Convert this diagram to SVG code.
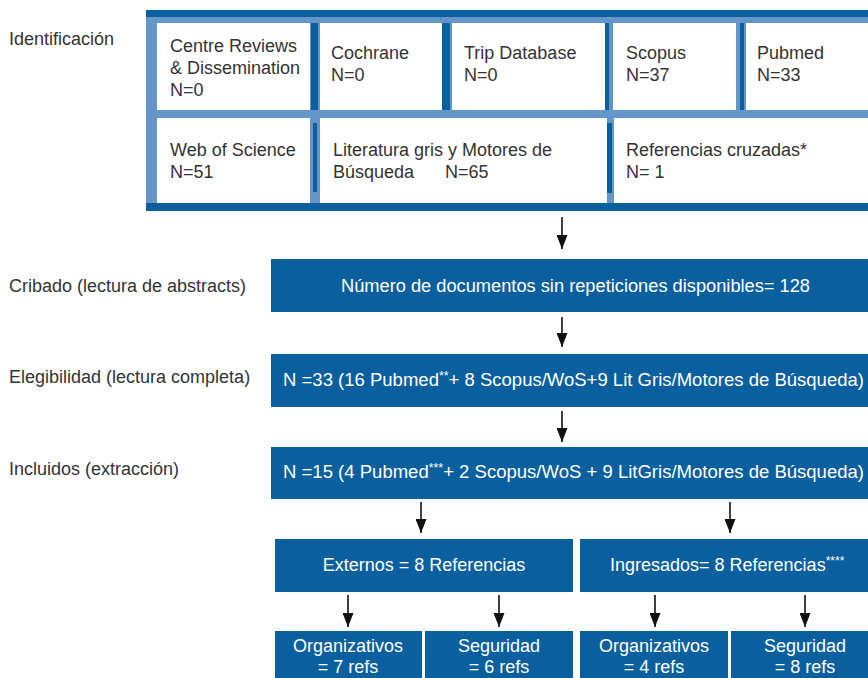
<svg xmlns="http://www.w3.org/2000/svg" width="868" height="678" viewBox="0 0 868 678">
<defs>
<style>
text{font-family:"Liberation Sans",Arial,Helvetica,sans-serif;font-size:18px}
.lbl{fill:#333333}
.dk{fill:#333333}
.wt{fill:#ffffff}
.dark{fill:#0A5F9E}
.light{fill:#6596C9}
.white{fill:#ffffff}
.conn line{stroke:#111111;stroke-width:1.6;fill:none}
.sup{font-size:12px}
</style>
<marker id="ah" markerUnits="userSpaceOnUse" markerWidth="15" markerHeight="11" refX="14" refY="5.5" orient="auto" viewBox="0 0 15 11">
<path d="M0,0 L14,5.5 L0,11 Z" fill="#111111"/>
</marker>
</defs>
<rect width="868" height="678" fill="#ffffff"/>

<g id="stage-labels">
<text class="lbl" x="9" y="45">Identificación</text>
<text class="lbl" x="9" y="292">Cribado (lectura de abstracts)</text>
<text class="lbl" x="9" y="383">Elegibilidad (lectura completa)</text>
<text class="lbl" x="9" y="475">Incluidos (extracción)</text>
</g>

<g id="source-frame">
<rect class="light" x="146" y="17" width="722" height="186"/>
<rect class="dark" x="146" y="10" width="722" height="7"/>
<rect class="dark" x="146" y="203" width="722" height="8"/>
<rect class="dark" x="311" y="23" width="7" height="87"/>
<rect class="dark" x="442" y="23" width="8" height="87"/>
<rect class="dark" x="605" y="23" width="4" height="87"/>
<rect class="dark" x="740" y="23" width="4" height="87"/>
<rect class="dark" x="313" y="123" width="4" height="69"/>
<rect class="dark" x="607" y="123" width="5" height="70"/>
</g>

<g id="crd">
<rect class="white" x="157" y="23" width="153" height="87"/>
<text class="dk" x="170" y="52">Centre Reviews</text>
<text class="dk" x="170" y="74">&amp; Dissemination</text>
<text class="dk" x="170" y="96">N=0</text>
</g>
<g id="cochrane">
<rect class="white" x="320" y="23" width="122" height="87"/>
<text class="dk" x="331" y="59">Cochrane</text>
<text class="dk" x="331" y="81">N=0</text>
</g>
<g id="trip">
<rect class="white" x="452" y="23" width="153" height="87"/>
<text class="dk" x="464" y="59">Trip Database</text>
<text class="dk" x="464" y="81">N=0</text>
</g>
<g id="scopus">
<rect class="white" x="613" y="23" width="123" height="87"/>
<text class="dk" x="626" y="59">Scopus</text>
<text class="dk" x="626" y="81">N=37</text>
</g>
<g id="pubmed">
<rect class="white" x="746" y="23" width="122" height="87"/>
<text class="dk" x="757" y="59">Pubmed</text>
<text class="dk" x="757" y="81">N=33</text>
</g>
<g id="wos">
<rect class="white" x="157" y="118" width="153" height="85"/>
<text class="dk" x="170" y="156">Web of Science</text>
<text class="dk" x="170" y="178">N=51</text>
</g>
<g id="literatura-gris">
<rect class="white" x="320" y="118" width="287" height="85"/>
<text class="dk" x="333" y="156">Literatura gris y Motores de</text>
<text class="dk" x="333" y="178">Búsqueda</text>
<text class="dk" x="445" y="178">N=65</text>
</g>
<g id="referencias-cruzadas">
<rect class="white" x="614" y="118" width="254" height="85"/>
<text class="dk" x="626" y="156">Referencias cruzadas*</text>
<text class="dk" x="626" y="178">N= 1</text>
</g>

<g id="cribado">
<rect class="dark" x="271" y="259" width="597" height="53"/>
<text class="wt" x="341" y="292" textLength="469" lengthAdjust="spacingAndGlyphs">Número de documentos sin repeticiones disponibles= 128</text>
</g>
<g id="elegibilidad">
<rect class="dark" x="271" y="354" width="597" height="53"/>
<text class="wt" x="283" y="386" textLength="581" lengthAdjust="spacingAndGlyphs">N =33 (16 Pubmed<tspan class="sup" dy="-6">**</tspan><tspan dy="6">+ 8 Scopus/WoS+9 Lit Gris/Motores de Búsqueda)</tspan></text>
</g>
<g id="incluidos">
<rect class="dark" x="271" y="447" width="597" height="52"/>
<text class="wt" x="283" y="478" textLength="581" lengthAdjust="spacingAndGlyphs">N =15 (4 Pubmed<tspan class="sup" dy="-6">***</tspan><tspan dy="6">+ 2 Scopus/WoS + 9 LitGris/Motores de Búsqueda)</tspan></text>
</g>
<g id="externos">
<rect class="dark" x="275" y="539" width="298" height="53"/>
<text class="wt" x="424" y="571" text-anchor="middle">Externos = 8 Referencias</text>
</g>
<g id="ingresados">
<rect class="dark" x="580" y="539" width="288" height="53"/>
<text class="wt" x="610" y="571">Ingresados= 8 Referencias<tspan class="sup" dy="-6">****</tspan></text>
</g>
<g id="ext-organizativos">
<rect class="dark" x="275" y="631" width="147" height="47"/>
<text class="wt" x="348" y="652" text-anchor="middle">Organizativos</text>
<text class="wt" x="348" y="673" text-anchor="middle">= 7 refs</text>
</g>
<g id="ext-seguridad">
<rect class="dark" x="425" y="631" width="148" height="47"/>
<text class="wt" x="499" y="652" text-anchor="middle">Seguridad</text>
<text class="wt" x="499" y="673" text-anchor="middle">= 6 refs</text>
</g>
<g id="ing-organizativos">
<rect class="dark" x="580" y="631" width="148" height="47"/>
<text class="wt" x="654" y="652" text-anchor="middle">Organizativos</text>
<text class="wt" x="654" y="673" text-anchor="middle">= 4 refs</text>
</g>
<g id="ing-seguridad">
<rect class="dark" x="731" y="631" width="137" height="47"/>
<text class="wt" x="805" y="652" text-anchor="middle">Seguridad</text>
<text class="wt" x="805" y="673" text-anchor="middle">= 8 refs</text>
</g>

<g id="connectors" class="conn">
<line x1="562" y1="217" x2="562" y2="249" marker-end="url(#ah)"/>
<line x1="562" y1="317" x2="562" y2="347" marker-end="url(#ah)"/>
<line x1="562" y1="411" x2="562" y2="442" marker-end="url(#ah)"/>
<line x1="421" y1="502" x2="421" y2="533" marker-end="url(#ah)"/>
<line x1="730" y1="502" x2="730" y2="533" marker-end="url(#ah)"/>
<line x1="348" y1="595" x2="348" y2="627" marker-end="url(#ah)"/>
<line x1="499" y1="595" x2="499" y2="627" marker-end="url(#ah)"/>
<line x1="655" y1="595" x2="655" y2="627" marker-end="url(#ah)"/>
<line x1="805" y1="595" x2="805" y2="627" marker-end="url(#ah)"/>
</g>
</svg>
